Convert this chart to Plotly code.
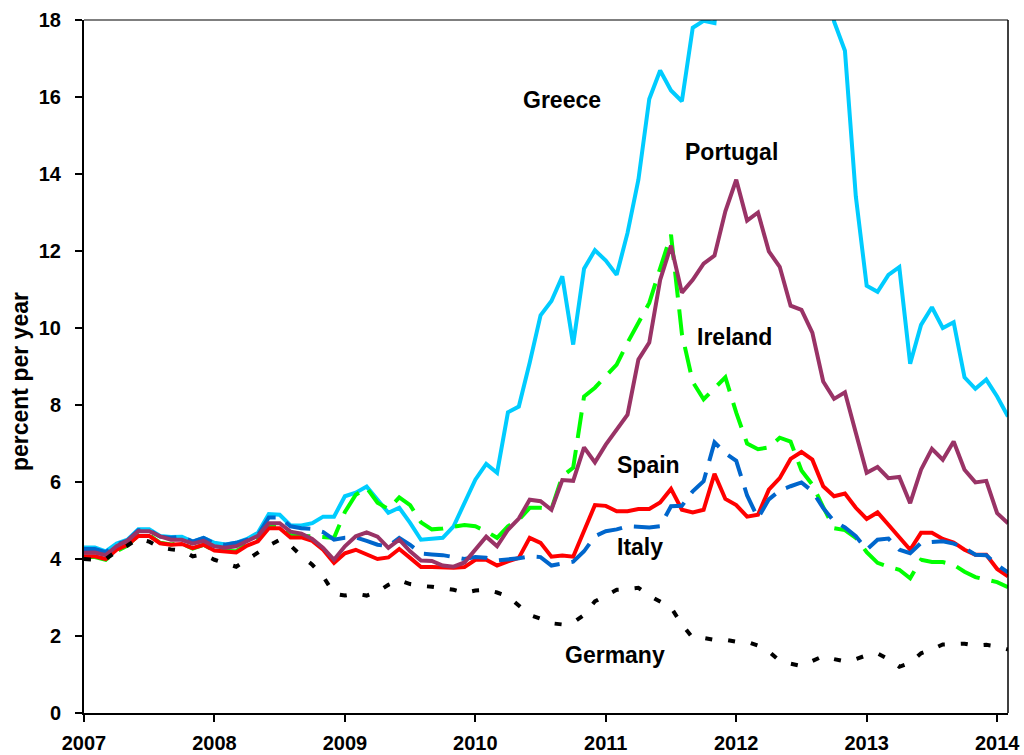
import plotly.graph_objects as go

# month index 0 = Jan 2007 ... 85 = Feb 2014
n_months = 86
years = [2007 + i / 12 for i in range(n_months)]

greece = [4.30, 4.30, 4.20, 4.40, 4.50, 4.77, 4.77, 4.60, 4.57, 4.58, 4.45, 4.55,
          4.42, 4.38, 4.42, 4.52, 4.68, 5.17, 5.15, 4.87, 4.87, 4.93, 5.10, 5.10,
          5.63, 5.72, 5.88, 5.54, 5.20, 5.33, 4.94, 4.50, 4.52, 4.55, 4.85, 5.45,
          6.06, 6.47, 6.24, 7.81, 7.96, 9.10, 10.33, 10.70, 11.34, 9.57, 11.54, 12.02,
          11.75, 11.38, 12.47, 13.85, 15.95, 16.69, 16.17, 15.89, 17.80, 17.98, 17.92, 21.14,
          25.91, 29.24, 19.07, 21.48, 26.90, 27.82, 25.82, 24.34, 20.91, 17.96, 17.20, 13.42,
          11.10, 10.94, 11.38, 11.58, 9.07, 10.08, 10.54, 10.00, 10.15, 8.72, 8.42, 8.66,
          8.22, 7.70]

portugal = [4.16, 4.17, 4.10, 4.33, 4.48, 4.72, 4.72, 4.59, 4.50, 4.50, 4.40, 4.47,
            4.33, 4.29, 4.33, 4.46, 4.60, 4.93, 4.93, 4.71, 4.66, 4.52, 4.29, 3.98,
            4.33, 4.59, 4.69, 4.58, 4.29, 4.50, 4.20, 3.96, 3.95, 3.83, 3.80, 3.91,
            4.24, 4.58, 4.33, 4.76, 5.05, 5.54, 5.50, 5.28, 6.05, 6.03, 6.90, 6.51,
            6.97, 7.36, 7.75, 9.18, 9.62, 11.25, 12.14, 10.92, 11.25, 11.67, 11.88, 13.03,
            13.85, 12.79, 13.00, 11.99, 11.59, 10.58, 10.47, 9.88, 8.61, 8.16, 8.33, 7.28,
            6.24, 6.39, 6.10, 6.13, 5.45, 6.32, 6.86, 6.58, 7.05, 6.32, 5.99, 6.03,
            5.19, 4.93]

ireland = [4.05, 4.05, 3.98, 4.20, 4.35, 4.62, 4.62, 4.42, 4.38, 4.40, 4.27, 4.37,
           4.22, 4.20, 4.20, 4.38, 4.55, 4.87, 4.87, 4.62, 4.60, 4.58, 4.58, 4.55,
           5.22, 5.67, 5.85, 5.46, 5.30, 5.60, 5.40, 4.95, 4.77, 4.79, 4.84, 4.88,
           4.85, 4.72, 4.55, 4.85, 5.02, 5.33, 5.33, 5.30, 6.15, 6.37, 8.22, 8.45,
           8.75, 9.05, 9.62, 10.14, 10.65, 11.55, 12.42, 9.85, 8.60, 8.15, 8.45, 8.72,
           7.80, 7.00, 6.85, 6.90, 7.15, 7.05, 6.30, 5.93, 5.35, 4.80, 4.75, 4.55,
           4.18, 3.90, 3.80, 3.72, 3.50, 3.98, 3.92, 3.92, 3.85, 3.67, 3.53, 3.46,
           3.40, 3.27]

spain = [4.07, 4.07, 4.00, 4.24, 4.37, 4.60, 4.60, 4.41, 4.37, 4.39, 4.28, 4.37,
         4.22, 4.20, 4.17, 4.35, 4.46, 4.80, 4.80, 4.56, 4.56, 4.47, 4.24, 3.90,
         4.15, 4.24, 4.11, 4.00, 4.04, 4.26, 4.03, 3.79, 3.79, 3.77, 3.77, 3.79,
         3.98, 3.98, 3.83, 3.94, 4.03, 4.55, 4.42, 4.06, 4.09, 4.06, 4.73, 5.40,
         5.38, 5.24, 5.24, 5.30, 5.30, 5.47, 5.82, 5.28, 5.21, 5.28, 6.21, 5.56,
         5.40, 5.10, 5.15, 5.80, 6.10, 6.60, 6.78, 6.58, 5.89, 5.63, 5.70, 5.33,
         5.04, 5.21, 4.89, 4.57, 4.24, 4.68, 4.68, 4.52, 4.43, 4.24, 4.11, 4.11,
         3.74, 3.55]

italy = [4.26, 4.26, 4.18, 4.38, 4.48, 4.75, 4.75, 4.58, 4.55, 4.58, 4.45, 4.55,
         4.40, 4.37, 4.42, 4.50, 4.62, 5.08, 5.08, 4.85, 4.80, 4.78, 4.70, 4.50,
         4.55, 4.56, 4.47, 4.37, 4.33, 4.55, 4.37, 4.14, 4.12, 4.10, 4.05, 4.00,
         4.05, 4.03, 3.96, 3.98, 4.02, 4.07, 4.05, 3.83, 3.87, 3.93, 4.20, 4.59,
         4.72, 4.77, 4.85, 4.83, 4.82, 4.85, 5.37, 5.38, 5.76, 6.02, 7.03, 6.75,
         6.55, 5.65, 5.06, 5.55, 5.78, 5.89, 5.99, 5.76, 5.32, 4.98, 4.82, 4.59,
         4.24, 4.50, 4.53, 4.24, 4.15, 4.42, 4.45, 4.46, 4.40, 4.29, 4.11, 4.10,
         3.85, 3.65]

germany = [4.00, 3.98, 4.00, 4.20, 4.35, 4.53, 4.45, 4.30, 4.25, 4.22, 4.07, 4.12,
           3.98, 3.90, 3.80, 3.98, 4.18, 4.35, 4.50, 4.35, 4.08, 3.85, 3.55, 3.10,
           3.05, 3.10, 3.05, 3.15, 3.33, 3.45, 3.35, 3.30, 3.28, 3.23, 3.20, 3.12,
           3.18, 3.20, 3.13, 3.03, 2.80, 2.55, 2.45, 2.33, 2.30, 2.35, 2.55, 2.90,
           3.05, 3.20, 3.22, 3.25, 3.05, 2.90, 2.74, 2.30, 1.95, 1.95, 1.90, 1.90,
           1.85, 1.85, 1.75, 1.60, 1.35, 1.28, 1.22, 1.35, 1.48, 1.40, 1.34, 1.40,
           1.50, 1.55, 1.40, 1.20, 1.30, 1.55, 1.65, 1.78, 1.80, 1.80, 1.75, 1.77,
           1.73, 1.65]

year_ticks = [2007, 2008, 2009, 2010, 2011, 2012, 2013, 2014]
y_ticks = [0, 2, 4, 6, 8, 10, 12, 14, 16, 18]

labels = ["Greece", "Portugal", "Ireland", "Spain", "Italy", "Germany"]
label_x = [2010.664, 2011.966, 2011.99, 2011.328, 2011.263, 2011.072]
label_y = [15.93, 14.58, 9.76, 6.45, 4.30, 1.51]

series = [
    ("Greece", greece, "#00CCFF", "solid"),
    ("Ireland", ireland, "#00FF00", "26px,12px"),
    ("Spain", spain, "#FF0000", "solid"),
    ("Italy", italy, "#0066CC", "26px,12px"),
    ("Portugal", portugal, "#993366", "solid"),
    ("Germany", germany, "#000000", "7px,16px"),
]

fig = go.Figure()
for name, vals, color, dash in series:
    fig.add_trace(go.Scatter(
        x=years, y=vals, mode="lines", name=name,
        line=dict(color=color, width=4, dash=dash),
        showlegend=False,
    ))

FONT = "Liberation Sans, Arial, sans-serif"

for txt, lx, ly in zip(labels, label_x, label_y):
    fig.add_annotation(x=lx, y=ly, text="<b>%s</b>" % txt, showarrow=False,
                       font=dict(family=FONT, size=23, color="black"),
                       xanchor="center", yanchor="middle")

fig.add_annotation(xref="paper", yref="paper", x=-0.07, y=0.478,
                   text="<b>percent per year</b>", textangle=-90, showarrow=False,
                   font=dict(family=FONT, size=23, color="black"),
                   xanchor="center", yanchor="middle")

x_max = 2007 + 85 / 12
fig.update_layout(
    width=1024, height=755,
    margin=dict(l=84, r=16, t=20, b=42, pad=0, autoexpand=False),
    paper_bgcolor="white", plot_bgcolor="white",
    font=dict(family=FONT, color="black"),
    xaxis=dict(range=[2007, x_max], tickvals=year_ticks,
               ticktext=["<b>%d</b>" % y for y in year_ticks],
               showgrid=False, zeroline=False, showline=True, linecolor="black",
               linewidth=2, ticks="outside", ticklen=7, tickwidth=1.5,
               tickcolor="black", tickfont=dict(family=FONT, size=20, color="black"),
               ticklabelstandoff=4, automargin=False),
    yaxis=dict(range=[0, 18], tickvals=y_ticks,
               ticktext=["<b>%d</b>" % v for v in y_ticks],
               showgrid=False, zeroline=False, showline=True, linecolor="black",
               linewidth=2, ticks="outside", ticklen=7, tickwidth=1.5,
               tickcolor="black", tickfont=dict(family=FONT, size=20, color="black"),
               ticklabelstandoff=10, automargin=False),
    shapes=[
        dict(type="line", xref="paper", yref="paper", x0=0, x1=1, y0=1, y1=1,
             line=dict(color="black", width=1.2)),
        dict(type="line", xref="paper", yref="paper", x0=1, x1=1, y0=0, y1=1,
             line=dict(color="black", width=1.5)),
    ],
)

fig.write_html(
    "out.html",
    config={"displayModeBar": False},
    post_script="document.body.style.margin='0px';document.body.style.padding='0px';"
                "document.documentElement.style.overflow='hidden';",
)
